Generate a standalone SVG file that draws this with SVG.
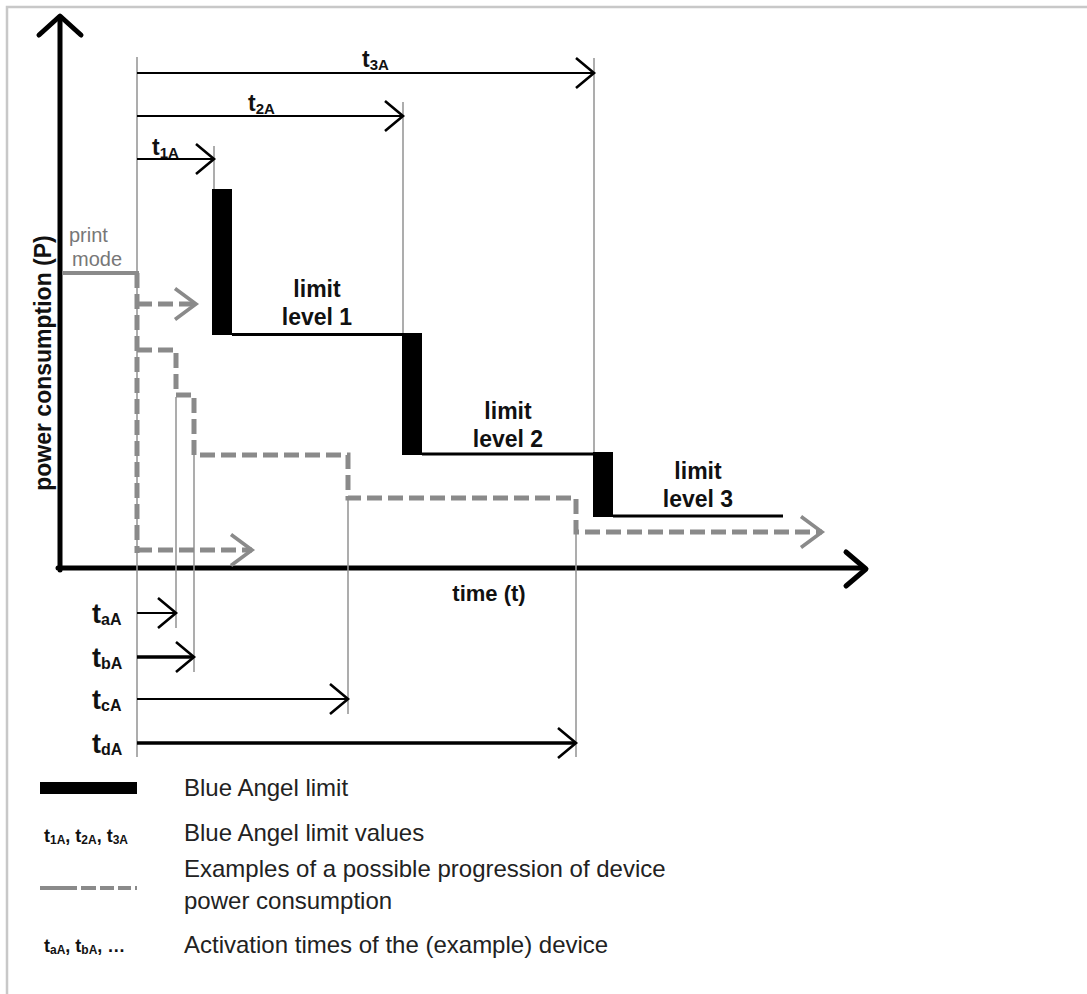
<svg xmlns="http://www.w3.org/2000/svg" width="1087" height="994" viewBox="0 0 1087 994">
<style>
.frame{stroke:#c8c8c8;stroke-width:2.5;fill:none}
.axis{stroke:#000;stroke-width:5;fill:none;stroke-linecap:round;stroke-linejoin:round}
.guide{stroke:#999;stroke-width:1.6;fill:none}
.arr{stroke:#000;stroke-width:2.2;fill:none}
.arrb{stroke:#000;stroke-width:3.4;fill:none}
.lim{stroke:#000;stroke-width:3;fill:none}
.bar{fill:#000}
.dash{stroke:#8a8a8a;stroke-width:5;fill:none;stroke-dasharray:15 6}
.print{stroke:#8a8a8a;stroke-width:4;fill:none}
text{font-family:"Liberation Sans",Arial,sans-serif}
.b{font-weight:bold;fill:#111}
.lvl{font-size:23px;text-anchor:middle}
.tl{font-size:23px}
.bl{font-size:27px}
.sub1{font-size:15px}
.sub2{font-size:16px}
.leg{font-size:24px;fill:#222}
.ls{font-size:18px}
.ls2{font-size:12px}
.gray{fill:#777;font-size:20px}
</style>
<defs>
<marker id="ah" markerUnits="userSpaceOnUse" markerWidth="24" markerHeight="36" viewBox="-21 -18 24 36" refX="0" refY="0" orient="auto" overflow="visible">
<path d="M-18,-15 L0,0 L-18,15" fill="none" stroke="#000" stroke-width="2.6"/>
</marker>
<marker id="ahg" markerUnits="userSpaceOnUse" markerWidth="26" markerHeight="38" viewBox="-23 -19 26 38" refX="0" refY="0" orient="auto" overflow="visible">
<path d="M-21,-15.5 L0,0 L-21,15.5" fill="none" stroke="#8a8a8a" stroke-width="3.6"/>
</marker>
</defs>

<g id="frame">
<path class="frame" d="M7,994 V7 H1087"/>
</g>

<g id="axes">
<path class="axis" d="M60,570 V18"/>
<polyline class="axis" points="39,35 60,16 81,35"/>
<path class="axis" d="M58,568 H864"/>
<polyline class="axis" points="846,552 866,569 846,586"/>
<text class="b" font-size="23" transform="translate(51,363) rotate(-90)" text-anchor="middle">power consumption (P)</text>
<text class="b" font-size="22" x="489" y="601" text-anchor="middle">time (t)</text>
</g>

<g id="guides">
<path class="guide" d="M137,57 V757"/>
<path class="guide" d="M214,146 V190"/>
<path class="guide" d="M403,102 V334"/>
<path class="guide" d="M594,58 V453"/>
<path class="guide" d="M176,397 V628"/>
<path class="guide" d="M194,455 V672"/>
<path class="guide" d="M348,500 V714"/>
<path class="guide" d="M576,532 V757"/>
</g>

<g id="connectors">
<path class="arr" d="M137,73 H594" marker-end="url(#ah)"/>
<path class="arr" d="M137,116 H403" marker-end="url(#ah)"/>
<path class="arr" d="M137,159 H214" marker-end="url(#ah)"/>
<path class="arr" d="M137,613 H176" marker-end="url(#ah)"/>
<path class="arrb" d="M137,657 H194" marker-end="url(#ah)"/>
<path class="arr" d="M137,699 H348" marker-end="url(#ah)"/>
<path class="arrb" d="M137,743 H576" marker-end="url(#ah)"/>
</g>

<g id="limit-values">
<text class="b tl" x="362" y="67">t<tspan class="sub1" dy="3">3A</tspan></text>
<text class="b tl" x="248" y="111">t<tspan class="sub1" dy="3">2A</tspan></text>
<text class="b tl" x="152" y="155">t<tspan class="sub1" dy="3">1A</tspan></text>
</g>

<g id="activation-times">
<text class="b bl" x="92" y="623">t<tspan class="sub2" dy="2">aA</tspan></text>
<text class="b bl" x="92" y="667">t<tspan class="sub2" dy="2">bA</tspan></text>
<text class="b bl" x="92" y="709">t<tspan class="sub2" dy="2">cA</tspan></text>
<text class="b bl" x="92" y="753">t<tspan class="sub2" dy="2">dA</tspan></text>
</g>

<g id="blue-angel-limit">
<rect class="bar" x="212" y="189" width="20" height="146"/>
<path class="lim" d="M232,334.5 H402"/>
<rect class="bar" x="402" y="333" width="20" height="122"/>
<path class="lim" d="M422,454 H593"/>
<rect class="bar" x="593" y="452" width="20" height="65"/>
<path class="lim" d="M613,516 H783"/>
</g>

<g id="limit-labels">
<text class="b lvl" x="317" y="297">limit</text>
<text class="b lvl" x="317" y="325">level 1</text>
<text class="b lvl" x="508" y="419">limit</text>
<text class="b lvl" x="508" y="447">level 2</text>
<text class="b lvl" x="698" y="479">limit</text>
<text class="b lvl" x="698" y="507">level 3</text>
</g>

<g id="print-mode">
<text class="gray" x="69" y="242">print</text>
<text class="gray" x="72" y="266">mode</text>
<path class="print" d="M62,273 H139"/>
</g>

<g id="device-progression">
<path class="dash" d="M137,273 V553"/>
<path class="dash" d="M137,304 H196" marker-end="url(#ahg)"/>
<path class="dash" d="M137,350 H176 V395 H194 V455 H348 V498 H576 V532 H822" marker-end="url(#ahg)"/>
<path class="dash" d="M137,550 H252" marker-end="url(#ahg)"/>
</g>

<g id="legend">
<rect class="bar" x="40" y="782" width="97" height="12"/>
<text class="leg" x="184" y="796">Blue Angel limit</text>
<text class="b ls" x="44" y="842">t<tspan class="ls2" dy="2">1A</tspan><tspan dy="-2">, t</tspan><tspan class="ls2" dy="2">2A</tspan><tspan dy="-2">, t</tspan><tspan class="ls2" dy="2">3A</tspan></text>
<text class="leg" x="184" y="841">Blue Angel limit values</text>
<path stroke="#8a8a8a" stroke-width="4" fill="none" stroke-dasharray="37 4 15 4 14 4 13 4 3 10" d="M40,888 H137"/>
<text class="leg" x="184" y="877">Examples of a possible progression of device</text>
<text class="leg" x="184" y="909">power consumption</text>
<text class="b ls" x="44" y="952">t<tspan class="ls2" dy="2">aA</tspan><tspan dy="-2">, t</tspan><tspan class="ls2" dy="2">bA</tspan><tspan dy="-2">, …</tspan></text>
<text class="leg" x="184" y="953">Activation times of the (example) device</text>
</g>
</svg>
